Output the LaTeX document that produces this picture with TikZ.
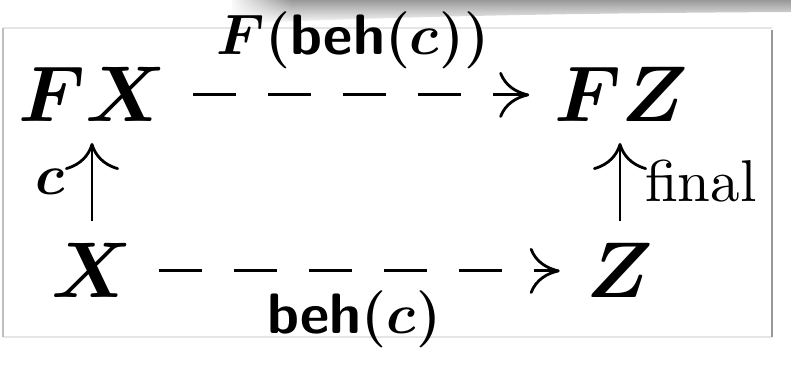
\RequirePackage{fix-cm}
\documentclass[tikz,border=0pt]{standalone}
\usepackage{amsmath}
\usepackage{graphicx}
\usetikzlibrary{arrows.meta,fadings}
\begin{document}
\begin{tikzpicture}[x=0.5pt,y=-0.5pt,
  obj/.style={inner sep=0pt, outer sep=0pt, anchor=base, font=\fontsize{39.5}{40}\selectfont\boldmath},
  lbl/.style={inner sep=0pt, outer sep=0pt, font=\fontsize{28.5}{29}\selectfont\boldmath},
  dasharrow/.style={line width=1.4pt, dash pattern=on 21.5pt off 16pt,
    -{Computer Modern Rightarrow[length=15pt,width=23pt]}},
  vertarrow/.style={line width=1.4pt,
    -{Computer Modern Rightarrow[length=13.5pt,width=27pt]}}]
\useasboundingbox (0,0) rectangle (791,368);
% top shadow
\shade[top color=black!40, bottom color=white]
  (232,0) -- (791,0) -- (791,12) .. controls (600,13) and (400,16) .. (232,24) -- cycle;
\fill[white, path fading=east] (228,0) rectangle (292,30);
% frame
\draw[line width=0.7pt, black!10] (3,28) -- (772,28);
\draw[line width=0.7pt, black!10] (3,337) -- (772,337);
\draw[line width=0.9pt, black!25] (3,28) -- (3,337);
\draw[line width=1.2pt, black!40] (772,30) -- (772,337);
% objects
\node[obj] (FX) at (93,122) {$FX$};
\node[obj] (FZ) at (621,122) {$FZ$};
\node[obj] (X)  at (92,298) {$X$};
\node[obj] (Z)  at (620,298) {$Z$};
% labels
\node[lbl, anchor=base] (ltop) at (353,55) {$F(\textsf{\bfseries beh}(c))$};
\node[lbl, anchor=base] (lbot) at (354,333) {$\textsf{\bfseries beh}(c)$};
\node[lbl, anchor=base east] (lc) at (65,195) {$c$};
\node[lbl, anchor=base west] (lfinal) at (645,202) {\scalebox{2.95}{\fontsize{10}{12}\selectfont final}};
% connectors
\draw[dasharrow, shorten <=13pt, shorten >=12.5pt] (FX) -- (FZ);
\draw[dasharrow, shorten <=13.5pt, shorten >=13.5pt] (X) -- (Z);
\draw[vertarrow, shorten <=11.5pt, shorten >=10.5pt] (X) -- (X |- FX.south);
\draw[vertarrow, shorten <=11.5pt, shorten >=10.5pt] (Z) -- (Z |- FZ.south);
\end{tikzpicture}
\end{document}
